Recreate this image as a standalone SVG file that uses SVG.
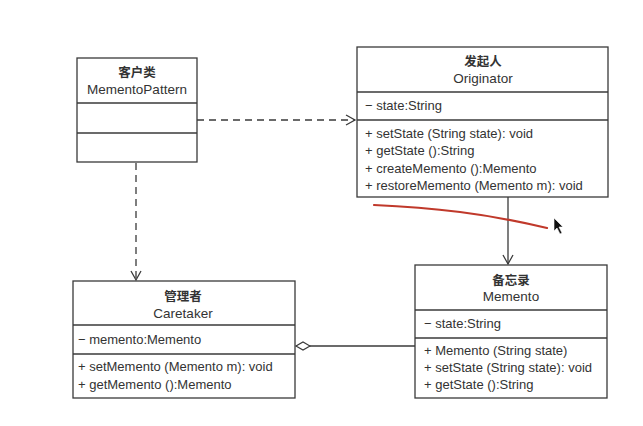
<svg xmlns="http://www.w3.org/2000/svg" width="643" height="426" viewBox="0 0 643 426">
<defs>
<style>
.box{fill:#fff;stroke:#3a3a3a;stroke-width:1.3}
.div{stroke:#3a3a3a;stroke-width:1.3}
.t{font-family:"Liberation Sans","Noto Sans CJK SC",sans-serif;font-size:13px;fill:#333}
.c{text-anchor:middle;font-size:13.5px}
.cn{font-family:"Noto Sans CJK SC","Liberation Sans",sans-serif;font-size:12.5px;font-weight:bold;fill:#333;text-anchor:middle}
.line{fill:none;stroke:#3a3a3a;stroke-width:1.3}
.dash{stroke-dasharray:7,5}
</style>
<marker id="open" markerWidth="12" markerHeight="12" refX="10" refY="6" orient="auto" markerUnits="userSpaceOnUse">
<path d="M1,1 L10,6 L1,11" fill="none" stroke="#3a3a3a" stroke-width="1.3"/>
</marker>
<marker id="diamond" markerWidth="18" markerHeight="10" refX="15" refY="5" orient="auto" markerUnits="userSpaceOnUse">
<path d="M1,5 L8,1 L15,5 L8,9 Z" fill="#fff" stroke="#3a3a3a" stroke-width="1.2"/>
</marker>
</defs>
<rect width="643" height="426" fill="#fff"/>

<g id="connectors">
<line class="line dash" x1="197" y1="120" x2="355" y2="120" marker-end="url(#open)"/>
<line class="line dash" x1="136" y1="163" x2="136" y2="280" marker-end="url(#open)"/>
<line class="line" x1="508" y1="197" x2="508" y2="264" marker-end="url(#open)"/>
<line class="line" x1="415" y1="346" x2="296" y2="346" marker-end="url(#diamond)"/>
</g>

<g id="client">
<rect class="box" x="77" y="58" width="120" height="104"/>
<line class="div" x1="77" y1="103" x2="197" y2="103"/>
<line class="div" x1="77" y1="133" x2="197" y2="133"/>
<text class="cn" x="137" y="77">客户类</text>
<text class="t c" x="137" y="94">MementoPattern</text>
</g>

<g id="originator">
<rect class="box" x="357" y="47" width="251" height="150"/>
<line class="div" x1="357" y1="92" x2="608" y2="92"/>
<line class="div" x1="357" y1="120" x2="608" y2="120"/>
<text class="cn" x="483" y="66">发起人</text>
<text class="t c" x="483" y="83">Originator</text>
<text class="t" x="365" y="110">− state:String</text>
<text class="t" x="365" y="138">+ setState (String state): void</text>
<text class="t" x="365" y="155">+ getState ():String</text>
<text class="t" x="365" y="173">+ createMemento ():Memento</text>
<text class="t" x="365" y="190">+ restoreMemento (Memento m): void</text>
</g>

<g id="caretaker">
<rect class="box" x="73" y="281" width="222" height="117"/>
<line class="div" x1="73" y1="325" x2="295" y2="325"/>
<line class="div" x1="73" y1="354" x2="295" y2="354"/>
<text class="cn" x="183" y="301">管理者</text>
<text class="t c" x="183" y="318">Caretaker</text>
<text class="t" x="78" y="344">− memento:Memento</text>
<text class="t" x="78" y="371">+ setMemento (Memento m): void</text>
<text class="t" x="78" y="389">+ getMemento ():Memento</text>
</g>

<g id="memento">
<rect class="box" x="415" y="265" width="192" height="133"/>
<line class="div" x1="415" y1="310" x2="607" y2="310"/>
<line class="div" x1="415" y1="338" x2="607" y2="338"/>
<text class="cn" x="511" y="285">备忘录</text>
<text class="t c" x="511" y="301">Memento</text>
<text class="t" x="424" y="328">− state:String</text>
<text class="t" x="424" y="355">+ Memento (String state)</text>
<text class="t" x="424" y="372">+ setState (String state): void</text>
<text class="t" x="424" y="389">+ getState ():String</text>
</g>

<path d="M374,205 Q420,207 460,212 T547,228" fill="none" stroke="#c0392b" stroke-width="2.2" stroke-linecap="round"/>
<path d="M554,218 L554,231 L557,228 L560,234 L562,233 L559,227 L563,227 Z" fill="#111" stroke="#fff" stroke-width="0.6"/>
</svg>
